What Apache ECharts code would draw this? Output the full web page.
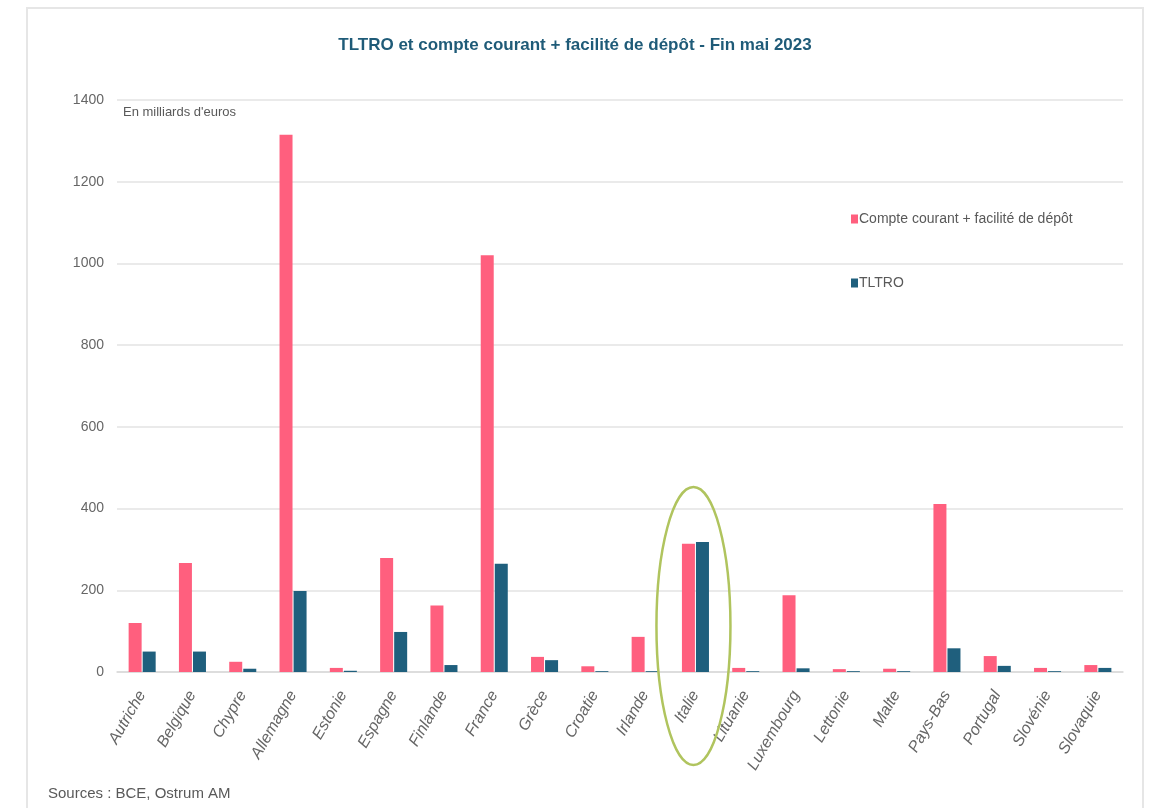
<!DOCTYPE html>
<html><head><meta charset="utf-8">
<script src="https://cdn.jsdelivr.net/npm/echarts@6/dist/echarts.min.js"></script>
<style>html,body{margin:0;padding:0;background:#fff}#c{width:1150px;height:808px}</style>
</head><body><div id="c"></div>
<script>
const categories = ['Autriche','Belgique','Chypre','Allemagne','Estonie','Espagne','Finlande','France','Grèce','Croatie','Irlande','Italie','Lituanie','Luxembourg','Lettonie','Malte','Pays-Bas','Portugal','Slovénie','Slovaquie'];
const compteCourant = [120,267,25,1315,10,279,163,1020,37,14,86,314,10,188,7,8,411,39,10,17];
const tltro = [50,50,8,198,3,98,17,265,29,2,2,318,2,9,2,2,58,15,2,10];
const yTicks = [0,200,400,600,800,1000,1200,1400];
const FONT = '"Liberation Sans Narrow","Liberation Sans",Arial,sans-serif';
const chart = echarts.init(document.getElementById('c'));
chart.setOption({
  animation:false,
  title:{text:'TLTRO et compte courant + facilité de dépôt - Fin mai 2023',left:'center',top:32,
    textStyle:{color:'#1f5b78',fontSize:17,fontWeight:'bold',fontFamily:FONT}},
  legend:{orient:'vertical',left:846,top:207,itemGap:50,itemWidth:7,itemHeight:9,icon:'rect',
    textStyle:{color:'#595959',fontSize:14,fontFamily:FONT,padding:[0,0,0,-4]},
    data:['Compte courant + facilité de dépôt','TLTRO']},
  grid:{left:117,right:27,top:100,bottom:136,containLabel:false},
  xAxis:{type:'category',data:categories,
    axisLine:{lineStyle:{color:'#d9d9d9',width:1.5}},axisTick:{show:false},
    axisLabel:{rotate:60,interval:0,color:'#666',fontStyle:'italic',fontSize:16,fontFamily:FONT,margin:20}},
  yAxis:{type:'value',min:0,max:1400,interval:200,
    axisLine:{show:false},axisTick:{show:false},
    splitLine:{lineStyle:{color:'#e3e3e3',width:1.5}},
    axisLabel:{color:'#666',fontSize:14,fontFamily:FONT,margin:13,
      formatter:v=>yTicks.includes(v)?String(v):''}},
  series:[
    {name:'Compte courant + facilité de dépôt',type:'bar',data:compteCourant,barWidth:13,barGap:'8%',
      itemStyle:{color:'#ff5f7e'}},
    {name:'TLTRO',type:'bar',data:tltro,barWidth:13,itemStyle:{color:'#1f5f7d'}}
  ],
  graphic:[
    {id:'frame',type:'rect',shape:{x:27,y:8,width:1116,height:820},style:{fill:'none',stroke:'#e6e6e6',lineWidth:2},silent:true},
    {id:'unit',type:'text',left:123,top:106,style:{text:"En milliards d'euros",fill:'#595959',fontSize:13,fontFamily:FONT}},
    {id:'src',type:'text',left:48,top:786,style:{text:'Sources : BCE, Ostrum AM',fill:'#595959',fontSize:15,fontFamily:FONT}}
  ]
});
const idx = categories.indexOf('Italie');
const p = chart.convertToPixel({xAxisIndex:0,yAxisIndex:0},[idx,160]);
chart.setOption({graphic:[{id:'ring',type:'ellipse',shape:{cx:p[0]-2,cy:626,rx:37,ry:139},
  style:{fill:'none',stroke:'#b0c45e',lineWidth:2.5},silent:true,z:10}]});
</script></body></html>
